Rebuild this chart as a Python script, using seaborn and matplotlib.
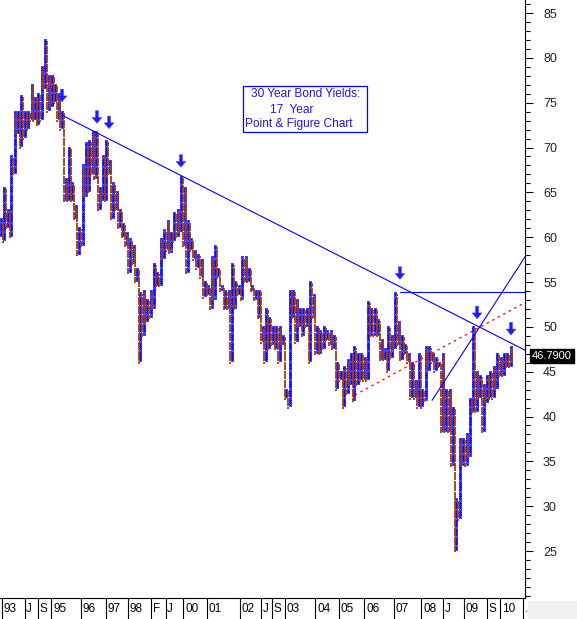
import numpy as np
import pandas as pd
import seaborn as sns
import matplotlib.pyplot as plt
import matplotlib.transforms as mtransforms
from matplotlib.patches import Rectangle

# P&F column extremes, left to right.
# even positions are X columns (their high), odd positions are O columns (their low)
cols_93_95 = [62, 59.5, 65.5, 61, 63, 60, 69, 67, 74, 71.5, 74, 70, 75.8, 71, 74, 72, 74, 73,
              77, 73, 75.5, 72.5, 76, 73, 79, 76.5, 82, 74, 78, 74.5, 78, 75, 77, 73, 76, 72, 74, 64,
              66.5, 64, 70, 64, 66, 62, 63.5, 58, 61, 59, 68, 64.5, 70.5]
cols_96_99 = [65, 70.8, 67, 71.7, 66.5, 71.7, 63, 65.5, 64, 69, 64, 70.8, 67, 68.5, 62, 66, 63, 65, 61, 63,
              60, 61.5, 59, 60.5, 56, 59.7, 57, 59, 55, 56.5, 46.1, 53.8, 49, 54, 50.5, 53, 51, 54, 52, 57,
              54.5, 56, 54.5, 59.7, 57.5, 60.8, 58.5, 61.7, 58.2, 60.5, 59.5, 62.8, 60]
cols_00_03 = [63, 60.5, 66.7, 59, 65.5, 56, 61.7, 58.5, 59.8, 57.5, 58.5, 56.5, 58, 55.5, 57.5, 53.2, 55, 53.5, 54.5, 52,
              57.8, 53, 58.9, 55.5, 56.5, 54, 54.5, 52, 54, 52, 54, 46.1, 56.9, 52, 55, 53.5, 54.5, 53, 57.8, 55,
              57.8, 55, 56.5, 54, 54.5, 53, 54, 51.1, 54, 48.2, 50, 46.1]
cols_03_06 = [51.9, 47.5, 51, 48, 50, 47.5, 50, 46.1, 50, 48, 49, 42.1, 43, 41.1, 53.9, 51, 53.9, 48.2, 53, 50,
              52, 49, 52, 50, 52, 46.1, 54.9, 51, 53.5, 47, 50, 47, 49.5, 47.5, 50, 48.5, 49.5, 48, 49.5, 47.5,
              49, 43, 46, 44, 45, 41.1, 45.5, 42.5, 46.3, 43.5, 47.1]
cols_06_08 = [41.8, 47.8, 43.5, 47, 44.1, 47, 44.1, 46.5, 44.1, 52.8, 49, 51.9, 49, 51.9, 49, 50.8, 46.3, 48.5, 46.3, 47.5,
              45, 50, 46.5, 49, 47.5, 53.8, 48, 50.5, 46.3, 49, 47, 48, 46, 47, 42.1, 46, 42.1, 44, 41.1, 46.9,
              41.1, 43, 41.8, 47.8, 45, 47.8, 46, 47, 45, 46.5, 45.5, 46, 38.2]
cols_08_10 = [46.9, 38.2, 43, 38.2, 43, 34.4, 41, 25.1, 30.7, 28.5, 37.5, 34.5, 37.5, 34.5, 38, 35.5, 42, 40.5, 49.9, 40.5,
              45, 42, 44.5, 38.2, 43.5, 41.5, 44.5, 42, 45, 42, 45.5, 43, 47, 44.5, 46.5, 44.5, 47, 45.5, 47, 45.5,
              47.8, 46.3]
box = 0.25
last_price = 46.79

# date strip along the bottom (column where each period starts)
date_cols = [0.5, 13.9, 21.7, 29.7, 47.1, 61.6, 74.7, 88.3, 96.9, 107.3, 121.1, 140.7, 153.2, 159.3, 166.9,
             185.0, 199.1, 213.9, 231.2, 247.4, 260.0, 272.4, 285.8, 293.6, 307.5]
date_labels = ['93', 'J', 'S', '95', '96', '97', '98', 'F', 'J', '00', '01', '02', 'J', 'S', '03',
               '04', '05', '06', '07', '08', 'J', '09', 'S', '10', '.']

# trend lines (column, yield)
down_trend = ([36.0, 308.4], [73.6, 47.4])
resist = ([234.8, 308.4], [53.9, 53.9])
up_trend = ([253.7, 308.4], [41.8, 57.8])
red_trend = ([208.3, 308.4], [42.4, 52.7])
arrow_cols = [35.9, 56.5, 63.6, 105.9, 234.8, 280.2, 300.2]
arrow_vals = [75.1, 72.7, 72.1, 67.8, 55.3, 50.9, 49.1]

swings = cols_93_95 + cols_96_99 + cols_00_03 + cols_03_06 + cols_06_08 + cols_08_10
rows = []
prev = swings[0] - 2
for i, v in enumerate(swings):
    kind = 'X' if i % 2 == 0 else 'O'
    lo, hi = (prev + box, v) if kind == 'X' else (v, prev - box)
    for lv in np.arange(np.round(lo / box) * box, hi + box / 2, box):
        rows.append((i, lv, kind))
    prev = v
boxes = pd.DataFrame(rows, columns=['col', 'level', 'kind'])

sns.set_style('white')
plt.rcParams['font.family'] = ['Liberation Sans', 'DejaVu Sans']

blue = '#0000ff'
brown = '#a83a0a'

fig = plt.figure(figsize=(5.77, 6.19), dpi=100)
ax = fig.add_axes([0, 21 / 619, 525 / 577, 598 / 619])

sns.scatterplot(data=boxes[boxes.kind == 'X'], x='col', y='level', marker='x', s=2.8,
                color=blue, linewidth=0.85, ax=ax, legend=False)
sns.scatterplot(data=boxes[boxes.kind == 'O'], x='col', y='level', marker='|', s=2.8,
                color=brown, linewidth=1.3, ax=ax, legend=False)

for xs, ys in [down_trend, resist, up_trend]:
    ax.plot(xs, ys, color=blue, lw=0.8)
ax.plot(*red_trend, color='#ff0000', lw=0.9, ls=(0, (2, 3)))

for c, v in zip(arrow_cols, arrow_vals):
    ax.annotate('', xy=(c, v), xytext=(c, v + 1.4),
                arrowprops=dict(arrowstyle='simple,head_length=0.6,head_width=1.0,tail_width=0.3',
                                fc='#1a1aff', ec='#5a3cff', lw=0.4, mutation_scale=7,
                                shrinkA=0, shrinkB=0))

ax.set_xlim(-0.6, 308.4)
ax.set_ylim(19.76, 86.45)
ax.set_xticks([])
ax.set_xlabel('')
ax.set_ylabel('')
ax.yaxis.tick_right()
ax.set_yticks(range(25, 90, 5))
ax.set_yticks(range(20, 87), minor=True)
ax.tick_params(axis='y', which='major', right=True, left=False, length=6, width=0.8,
               pad=7, labelsize=9, labelcolor='#222222', color='black')
ax.tick_params(axis='y', which='minor', right=True, left=False, length=3.5, width=0.8, color='black')
for s in ['left', 'top']:
    ax.spines[s].set_visible(False)
for s in ['right', 'bottom']:
    ax.spines[s].set_color('black')
    ax.spines[s].set_linewidth(0.8)

# title box
ax.add_patch(Rectangle((242.7 / 525, 1 - 131.7 / 598), 124.6 / 525, 45.7 / 598,
                       transform=ax.transAxes, fill=False, ec=blue, lw=0.9))
ax.text(251 / 525, 1 - 94 / 598, '30 Year Bond Yields:', transform=ax.transAxes,
        color='#2a10e0', fontsize=8.6, va='center', ha='left')
ax.text(270 / 525, 1 - 110 / 598, '17  Year', transform=ax.transAxes,
        color='#2a10e0', fontsize=8.6, va='center', ha='left')
ax.text(245 / 525, 1 - 124 / 598, 'Point & Figure Chart', transform=ax.transAxes,
        color='#2a10e0', fontsize=8.6, va='center', ha='left')

# last price flag
tr = mtransforms.blended_transform_factory(ax.transAxes, ax.transData)
ax.text(1.013, last_price, f'{last_price:.4f}', transform=tr, color='white', fontsize=8,
        va='center', ha='left', bbox=dict(boxstyle='square,pad=0.18', fc='black', ec='black'),
        clip_on=False)

# date strip
trx = mtransforms.blended_transform_factory(ax.transData, ax.transAxes)
ax.vlines(date_cols, -21 / 598, 0, transform=trx, color='black', lw=0.8, clip_on=False)
for c, lab in zip(date_cols, date_labels):
    ax.text(c + 1.0, -10.5 / 598, lab, transform=trx, fontsize=8.5, va='center', ha='left',
            color='black', clip_on=False)

fig.patches.append(Rectangle((528 / 577, 0), 49 / 577, 18 / 619, transform=fig.transFigure,
                             fc='#f0f0f0', ec='none'))

fig.savefig('out.png', dpi=100)
